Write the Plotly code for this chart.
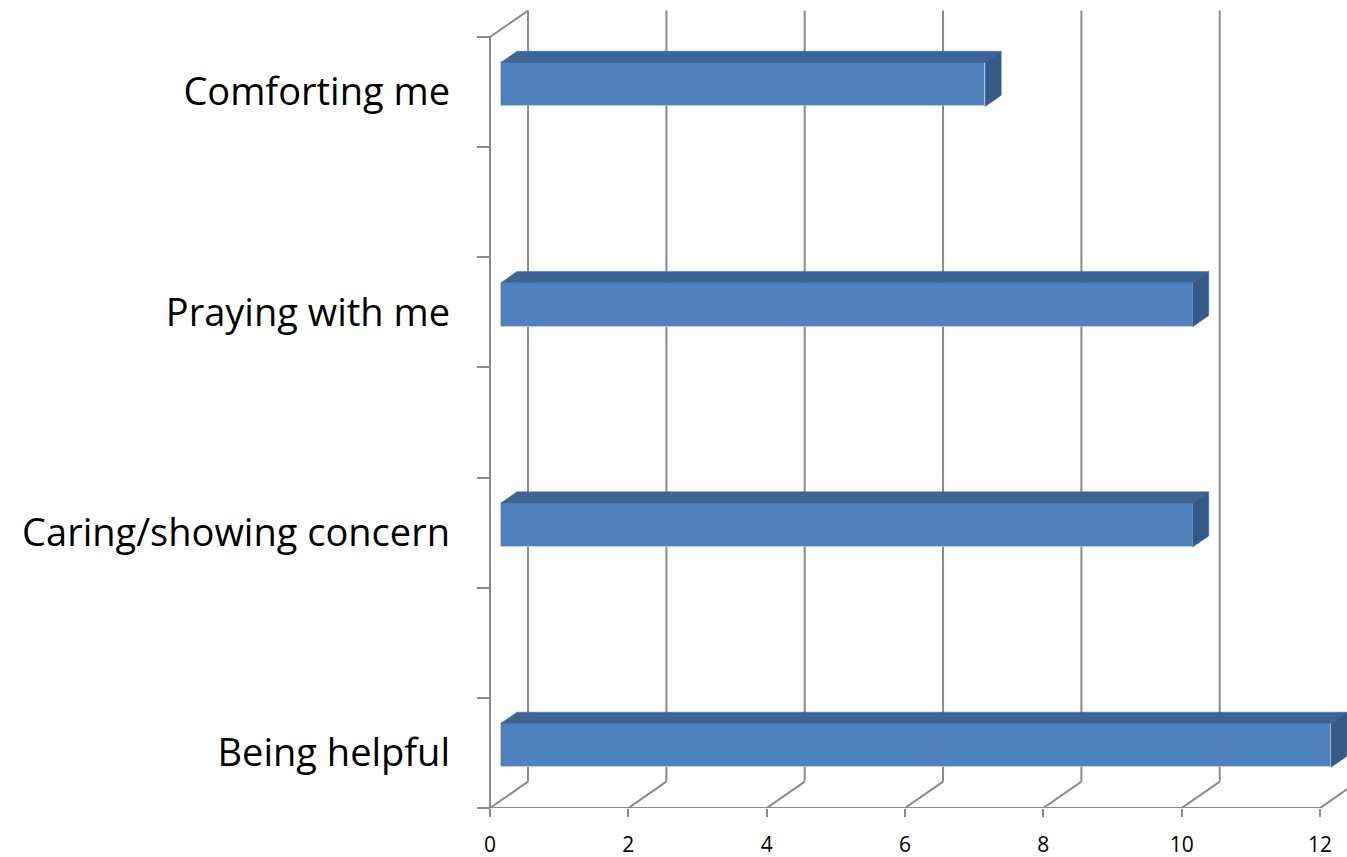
import plotly.graph_objects as go

# ---- data ----
categories = ["Being helpful", "Caring/showing concern", "Praying with me", "Comforting me"]
values = [12, 10, 10, 7]
x_ticks = [0, 2, 4, 6, 8, 10, 12]

# ---- style / geometry ----
W, H = 1347, 857
GRID = "#8A8A8A"
FRONT = "#4F81BD"
TOP = "#3E6495"
SIDE = "#365A88"
FONT = "Open Sans"

X_LO, X_HI = -7.084, 12.39       # x range (value units)
Y_LO, Y_HI = -0.25, 3.418        # y range (category units)
DX, DY = 0.55, 0.12              # depth offset (back plane)
D1, D2 = 0.29, 0.71              # bar depth fractions
BH = 0.2                         # bar face thickness
Y_BOT, Y_TOP = -0.25, 3.25

fig = go.Figure()

ypos = list(range(len(categories)))

# front faces of bars
fig.add_trace(go.Bar(
    orientation="h",
    x=values,
    y=[p + D1 * DY for p in ypos],
    base=[D1 * DX] * len(values),
    width=BH,
    marker=dict(color=FRONT, line=dict(color="rgba(200,215,235,0.6)", width=1)),
    hoverinfo="skip", showlegend=False,
))

# top and side faces
for p, v in zip(ypos, values):
    top_y1 = p + BH / 2 + D1 * DY
    top_y2 = p + BH / 2 + D2 * DY
    bot_y1 = p - BH / 2 + D1 * DY
    bot_y2 = p - BH / 2 + D2 * DY
    fig.add_trace(go.Scatter(
        x=[D1 * DX, D2 * DX, v + D2 * DX, v + D1 * DX, D1 * DX],
        y=[top_y1, top_y2, top_y2, top_y1, top_y1],
        fill="toself", fillcolor=TOP, mode="lines",
        line=dict(color=TOP, width=0.5),
        hoverinfo="skip", showlegend=False,
    ))
    fig.add_trace(go.Scatter(
        x=[v + D1 * DX, v + D1 * DX, v + D2 * DX, v + D2 * DX, v + D1 * DX],
        y=[bot_y1, top_y1, top_y2, bot_y2, bot_y1],
        fill="toself", fillcolor=SIDE, mode="lines",
        line=dict(color=SIDE, width=0.5),
        hoverinfo="skip", showlegend=False,
    ))

shapes = []
line = dict(color=GRID, width=2)
# back-plane gridlines and floor diagonals
for t in x_ticks:
    shapes.append(dict(type="line", xref="x", yref="y", layer="below",
                       x0=t + DX, x1=t + DX, y0=Y_BOT + DY, y1=Y_TOP + DY, line=line))
    shapes.append(dict(type="line", xref="x", yref="y", layer="below",
                       x0=t, x1=t + DX, y0=Y_BOT, y1=Y_BOT + DY, line=line))
# front baseline
shapes.append(dict(type="line", xref="x", yref="y", layer="below",
                   x0=x_ticks[0], x1=x_ticks[-1], y0=Y_BOT, y1=Y_BOT, line=line))
# left wall front edge and top diagonal
shapes.append(dict(type="line", xref="x", yref="y", layer="below",
                   x0=0, x1=0, y0=Y_BOT, y1=Y_TOP, line=line))
shapes.append(dict(type="line", xref="x", yref="y", layer="below",
                   x0=0, x1=DX, y0=Y_TOP, y1=Y_TOP + DY, line=line))

minor_vals = [Y_BOT + 0.5 * k for k in range(8)]

fig.update_layout(
    width=W, height=H,
    margin=dict(l=0, r=0, t=0, b=49),
    paper_bgcolor="white", plot_bgcolor="white",
    shapes=shapes,
    xaxis=dict(range=[X_LO, X_HI], tickmode="array", tickvals=x_ticks,
               ticks="outside", ticklen=8, tickwidth=2, tickcolor=GRID,
               showgrid=False, zeroline=False, showline=False,
               ticklabelstandoff=10,
               tickfont=dict(family=FONT, size=21, color="black"),
               fixedrange=True),
    yaxis=dict(range=[Y_LO, Y_HI], anchor="free", position=490 / W,
               tickmode="array", tickvals=ypos, ticktext=categories,
               ticks="", showgrid=False, zeroline=False, showline=False,
               ticklabelstandoff=40,
               minor=dict(tickmode="array", tickvals=minor_vals, ticks="outside",
                          ticklen=13, tickwidth=2, tickcolor=GRID, showgrid=False),
               tickfont=dict(family=FONT, size=38, color="black"),
               fixedrange=True),
    bargap=0,
)

fig.write_html("out.html")
